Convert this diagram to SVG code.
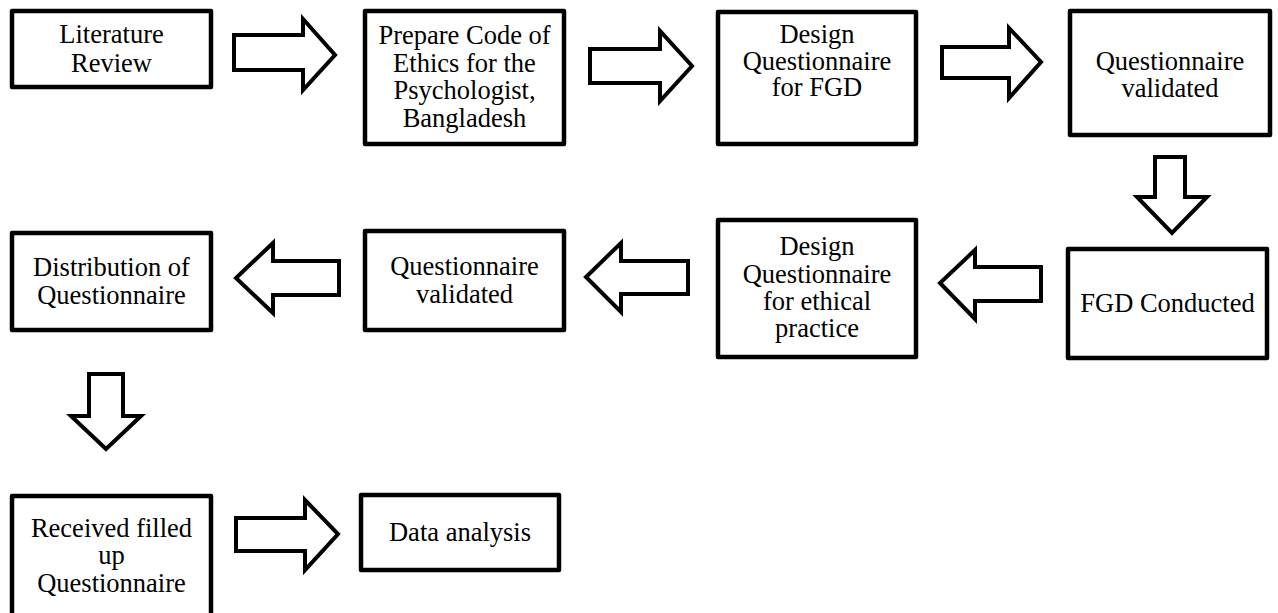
<svg xmlns="http://www.w3.org/2000/svg" width="1278" height="613" viewBox="0 0 1278 613">
<style>
.box{fill:#fff;stroke:#000;stroke-width:4.5;stroke-linejoin:round}
.arr{fill:#fff;stroke:#000;stroke-width:4;stroke-linejoin:miter;stroke-miterlimit:10}
text{font-family:"Liberation Serif","Times New Roman",serif;font-size:26.5px;fill:#000;text-anchor:middle}
</style>
<rect width="1278" height="613" fill="#fff"/>
<g id="connectors">
<polygon class="arr" points="234,35 303,35 303,19 335,55 303,90 303,70 234,70"/>
<polygon class="arr" points="590,49 660,49 660,31 692,66 660,101 660,83 590,83"/>
<polygon class="arr" points="942,47 1009,47 1009,28 1041,62 1009,98 1009,78 942,78"/>
<polygon class="arr" points="1155,157 1185,157 1185,197 1207,197 1172,233 1137,197 1155,197"/>
<polygon class="arr" points="1041,267 975,267 975,250 940,283 975,319 975,301 1041,301"/>
<polygon class="arr" points="688,261 621,261 621,243 586,277 621,312 621,294 688,294"/>
<polygon class="arr" points="339,261 273,261 273,243 236,278 273,313 273,295 339,295"/>
<polygon class="arr" points="89,374 123,374 123,416 141,416 106,449 71,416 89,416"/>
<polygon class="arr" points="236,518 305,518 305,500 338,534 305,570 305,551 236,551"/>
</g>
<g id="n1"><rect class="box" x="12" y="11" width="199" height="76"/><text x="111.5" y="43">Literature</text><text x="111.5" y="72">Review</text></g>
<g id="n2"><rect class="box" x="365" y="11" width="199" height="133"/><text x="464.5" y="44">Prepare Code of</text><text x="464.5" y="72">Ethics for the</text><text x="464.5" y="99">Psychologist,</text><text x="464.5" y="127">Bangladesh</text></g>
<g id="n3"><rect class="box" x="718" y="12" width="198" height="132"/><text x="817" y="43">Design</text><text x="817" y="70">Questionnaire</text><text x="817" y="96">for FGD</text></g>
<g id="n4"><rect class="box" x="1070" y="11" width="200" height="124"/><text x="1170" y="70">Questionnaire</text><text x="1170" y="97">validated</text></g>
<g id="n5"><rect class="box" x="1068" y="249" width="199" height="109"/><text x="1167.5" y="312">FGD Conducted</text></g>
<g id="n6"><rect class="box" x="718" y="220" width="198" height="137"/><text x="817" y="255">Design</text><text x="817" y="283">Questionnaire</text><text x="817" y="310">for ethical</text><text x="817" y="337">practice</text></g>
<g id="n7"><rect class="box" x="365" y="231" width="199" height="99"/><text x="464.5" y="275">Questionnaire</text><text x="464.5" y="303">validated</text></g>
<g id="n8"><rect class="box" x="12" y="233" width="199" height="97"/><text x="111.5" y="276">Distribution of</text><text x="111.5" y="304">Questionnaire</text></g>
<g id="n9"><rect class="box" x="12" y="496" width="199" height="140"/><text x="111.5" y="537">Received filled</text><text x="111.5" y="564">up</text><text x="111.5" y="592">Questionnaire</text></g>
<g id="n10"><rect class="box" x="361" y="495" width="198" height="75"/><text x="460" y="541">Data analysis</text></g>
</svg>
